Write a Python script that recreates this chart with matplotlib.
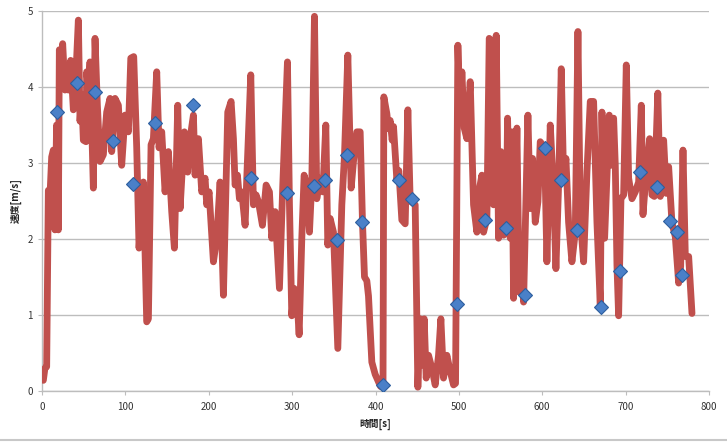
import matplotlib
matplotlib.use("Agg")
import matplotlib.pyplot as plt
from matplotlib.lines import Line2D

plt.rcParams['font.family'] = ['Noto Sans CJK JP', 'DejaVu Sans']

# Speed trace (time [s], speed [m/s])
time_s = [
    0.5, 1.6, 3.5, 5.6, 7.6, 9.5, 11.6, 13.6, 15.5, 17.5, 19.6, 20.8, 22.5, 24.8,
    27.6, 29.5, 31.6, 34.4, 37.6, 40.0, 43.6, 45.6, 47.5, 49.6, 52.8, 53.6, 55.5,
    57.6, 61.6, 63.6, 66.4, 69.6, 73.6, 77.6, 81.6, 83.6, 87.6, 91.6, 95.6, 99.6,
    103.6, 106.5, 110.0, 113.6, 116.4, 121.6, 125.6, 127.6, 130.8, 133.6, 137.6,
    140.4, 143.6, 147.6, 151.6, 155.6, 158.8, 162.8, 165.6, 170.8, 174.8, 177.6,
    181.6, 183.6, 187.6, 191.6, 195.6, 197.6, 200.4, 205.6, 209.6, 213.6, 217.6,
    222.8, 226.8, 229.6, 231.6, 234.4, 236.8, 239.6, 243.6, 245.6, 250.4, 253.6,
    256.8, 259.6, 264.4, 268.8, 272.8, 275.6, 279.6, 284.8, 288.8, 294.4, 296.8,
    299.6, 302.4, 305.6, 308.4, 311.6, 314.4, 317.6, 320.8, 323.6, 326.8, 329.6,
    332.8, 336.8, 340.4, 342.8, 345.6, 349.6, 354.8, 359.6, 362.8, 366.8, 370.8,
    373.6, 377.6, 381.6, 384.4, 386.8, 389.6, 391.6, 395.6, 399.6, 403.6, 406.0,
    409.0, 410.0, 413.6, 415.5, 417.6, 420.0, 421.6, 425.6, 428.0, 431.6, 435.6,
    438.8, 441.6, 447.6, 450.8, 453.6, 455.6, 458.4, 460.8, 463.6, 467.6, 471.6,
    475.6, 478.4, 481.6, 485.6, 489.6, 493.6, 496.0, 498.8, 501.6, 503.6, 506.4,
    509.6, 513.6, 517.6, 521.6, 524.8, 527.6, 529.6, 533.6, 536.4, 539.6, 541.6,
    544.8, 547.6, 550.4, 553.6, 556.8, 558.4, 561.6, 563.6, 565.6, 569.6, 572.4,
    573.6, 577.6, 582.8, 585.6, 588.4, 591.6, 594.8, 597.6, 602.8, 605.6, 609.6,
    613.6, 616.4, 619.6, 622.8, 625.6, 628.4, 631.6, 635.6, 639.6, 642.8, 645.6,
    649.6, 653.6, 657.6, 661.6, 665.6, 669.6, 671.6, 674.8, 680.4, 683.6, 685.6,
    687.6, 689.6, 691.6, 694.4, 697.6, 700.8, 703.6, 707.6, 711.6, 715.6, 718.8,
    720.8, 724.8, 728.8, 731.6, 734.4, 738.6, 741.6, 745.6, 748.8, 751.6, 755.6,
    759.6, 763.6, 766.0, 768.8, 771.6, 775.6, 779.6,
]
speed = [
    0.15, 0.14, 0.30, 0.32, 2.64, 2.55, 3.08, 3.17, 2.12, 3.50, 2.12, 4.49, 4.30, 4.57,
    3.96, 4.10, 3.96, 4.35, 3.70, 4.00, 4.88, 3.55, 3.90, 3.30, 3.28, 4.20, 4.00,
    4.33, 2.67, 4.64, 3.76, 3.02, 3.11, 3.67, 3.85, 3.15, 3.85, 3.76, 2.97, 3.63,
    3.41, 4.38, 4.40, 3.20, 1.88, 2.75, 0.91, 0.95, 3.24, 3.32, 4.20,
    3.20, 3.41, 2.62, 3.15, 2.36, 1.88, 3.76, 2.40, 3.41, 2.88, 3.32,
    3.63, 2.84, 3.32, 2.62, 2.80, 2.45, 2.62, 1.70, 2.01, 2.75, 1.26,
    3.67, 3.81, 3.32, 2.71, 2.84, 2.53, 2.62, 2.18, 2.80, 4.16, 2.45,
    2.58, 2.49, 2.18, 2.71, 2.62, 2.01, 2.36, 1.35, 2.71, 4.33, 2.45,
    0.99, 1.35, 1.26, 0.74, 2.01, 2.84, 2.71, 2.09, 2.75, 4.93, 2.53,
    2.80, 2.62, 3.50, 1.92, 2.27, 2.09, 0.56, 2.45, 3.10, 4.42, 2.67,
    3.02, 3.41, 3.41, 2.22, 1.50, 1.45, 1.25, 0.38, 0.22, 0.12, 0.06,
    0.05, 3.87, 3.65, 3.45, 3.56, 3.30, 3.48, 2.78, 2.90, 2.25, 2.20,
    3.70, 2.50, 2.45, 0.05, 0.95, 0.34, 0.95, 0.17, 0.47, 0.30, 0.08,
    0.47, 0.95, 0.17, 0.47, 0.26, 0.08, 0.10, 4.55, 3.55, 4.20, 3.46,
    3.32, 4.07, 2.45, 2.09, 2.67, 2.84, 2.09, 2.27, 4.64, 4.60, 2.45,
    4.68, 2.01, 3.15, 2.05, 2.14, 3.59, 2.01, 3.41, 1.22, 3.46, 1.30,
    1.92, 1.17, 3.63, 2.40, 3.06, 2.22, 2.49, 3.28, 3.20, 1.70, 3.50,
    2.62, 1.61, 2.71, 4.24, 2.80, 3.06, 2.22, 1.70, 2.09, 4.73, 2.27,
    1.70, 2.88, 3.81, 3.81, 2.22, 1.13, 3.67, 2.01, 3.63, 2.97, 3.59,
    2.97, 1.66, 0.99, 2.53, 2.58, 4.29, 2.80, 2.53, 2.62, 2.75, 3.76,
    2.32, 2.88, 3.32, 2.58, 2.56, 3.92, 2.56, 3.30, 2.60, 2.95, 2.21,
    2.03, 1.42, 1.64, 3.17, 1.77, 1.77, 1.02,
]

# Highlighted sample points (diamonds)
mark_time = [18.4, 42.4, 63.6, 84.8, 108.8, 135.6, 181.6, 250.4, 294.4, 326.4,
             339.8, 353.6, 365.6, 384.4, 408.8, 428.6, 443.4, 497.6, 531.6, 556.8,
             579.6, 602.8, 622.4, 641.6, 670.8, 693.6, 717.6, 737.8, 753.2, 761.2,
             767.6]
mark_speed = [3.67, 4.05, 3.94, 3.29, 2.72, 3.52, 3.76, 2.80, 2.60, 2.70,
              2.77, 1.99, 3.10, 2.22, 0.08, 2.77, 2.53, 1.14, 2.25, 2.14,
              1.26, 3.20, 2.77, 2.12, 1.11, 1.58, 2.88, 2.68, 2.24, 2.09,
              1.52]

x_ticks = [0, 100, 200, 300, 400, 500, 600, 700, 800]
y_ticks = [0, 1, 2, 3, 4, 5]

fig = plt.figure(figsize=(7.27, 4.47), dpi=100)
ax = fig.add_axes([42 / 727, 1 - 391 / 447, 667 / 727, 380 / 447])

ax.plot(time_s, speed, color='#c0504d', linewidth=4.9, solid_joinstyle='round',
        solid_capstyle='round', zorder=3)
ax.plot(mark_time, mark_speed, linestyle='none', marker='D', markersize=7.5,
        markerfacecolor='#4a80c8', markeredgecolor='#2d5e9e', markeredgewidth=0.8,
        zorder=4)

ax.set_xlim(0, 800)
ax.set_ylim(0, 5)
ax.set_xticks(x_ticks)
ax.set_yticks(y_ticks)
ax.grid(axis='y', color='#bdbdbd', linewidth=1.0)
ax.set_axisbelow(True)
for s in ['top', 'right']:
    ax.spines[s].set_visible(False)
for s in ['left', 'bottom']:
    ax.spines[s].set_color('#bdbdbd')
    ax.spines[s].set_linewidth(1.0)
ax.tick_params(axis='both', labelsize=7, colors='#bdbdbd', labelcolor='#333333',
               length=3, width=0.8)
ax.tick_params(axis='x', pad=5)
ax.set_xlabel('時間[s]', fontsize=7, fontweight='bold', color='#222222', labelpad=5)
ax.set_ylabel('速度[m/s]', fontsize=7, fontweight='bold', color='#222222', labelpad=4)

fig.add_artist(Line2D([0, 1], [1 - 440 / 447, 1 - 440 / 447], color='#c8c8c8',
                      linewidth=1.5, transform=fig.transFigure))

fig.savefig('out.png', dpi=100)
